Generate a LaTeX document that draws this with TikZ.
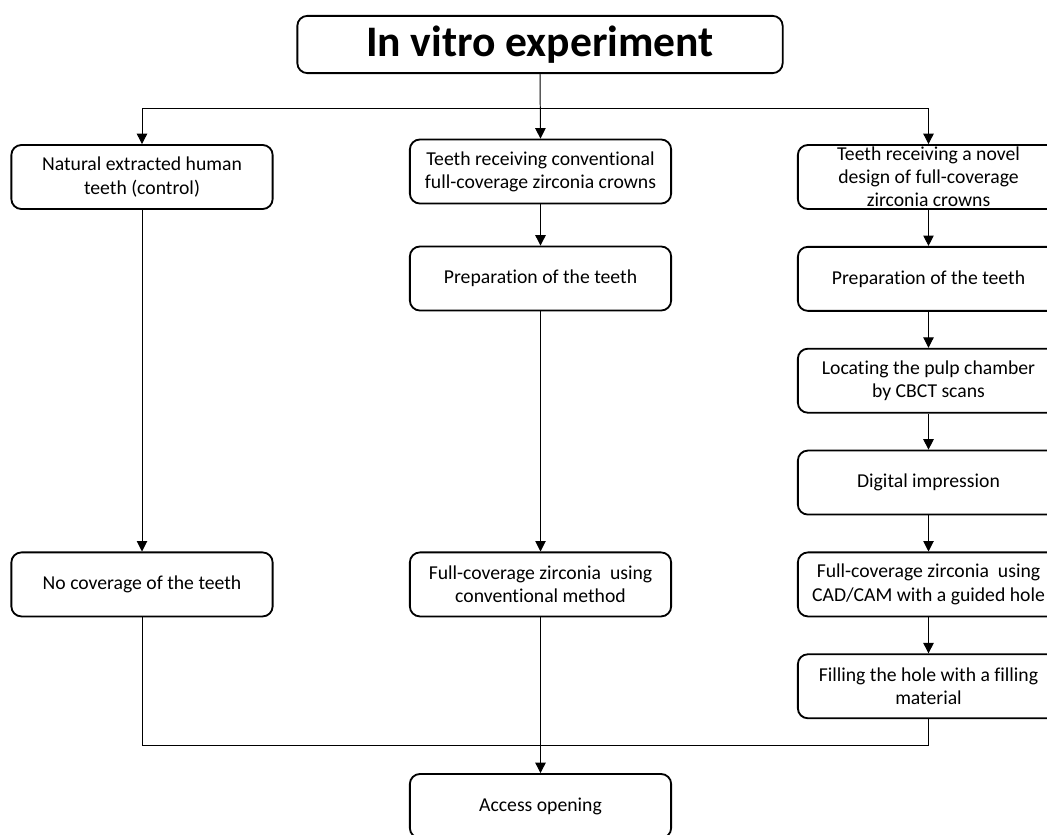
\documentclass[tikz,border=0pt]{standalone}
\usepackage{fontspec}
\setmainfont{Carlito}[Ligatures={NoCommon}]
\usetikzlibrary{arrows.meta,positioning,calc}

\begin{document}
\begin{tikzpicture}[
  x=0.025cm, y=-0.025cm,
  node distance=0.9cm and 3.2cm,
  box/.style={draw,rounded corners=0.25cm,line width=1.3pt,align=center,
    minimum width=6.53cm,minimum height=1.6cm,inner xsep=2pt,inner ysep=0pt,
    font=\fontsize{14}{16.5}\selectfont},
  head/.style={box,minimum width=12.13cm,minimum height=1.43cm,
    font=\fontsize{31}{34}\selectfont\bfseries},
  arr/.style={-{Triangle[length=2.6mm,width=2.6mm]},line width=0.7pt},
  link/.style={line width=0.7pt}
]
  \clip (0,0) rectangle (1047,835);
  \node[head] (title) at (540,44.5) {In vitro experiment};
  \node[box] (nat) at (142,177) {Natural extracted human\\teeth (control)};
  \node[box] (conv) at (540.5,171.5) {Teeth receiving conventional\\full-coverage zirconia crowns};
  \node[box] (novel) at (928.5,177) {Teeth receiving a novel\\design of full-coverage\\zirconia crowns};
  \node[box,below=of novel] (prepb) {Preparation of the teeth};
  \node[box,below=of prepb] (pulp) {Locating the pulp chamber\\by CBCT scans};
  \node[box,below=of pulp] (scan) {Digital impression};
  \node[box,below=of scan] (cadcam) {Full-coverage zirconia~ using\\CAD/CAM with a guided hole};
  \node[box,below=of cadcam] (fill) {Filling the hole with a filling\\material};
  \node[box] (prepa) at (540.5,278.5) {Preparation of the teeth};
  \node[box] (fcconv) at (conv |- cadcam) {Full-coverage zirconia~ using\\conventional method};
  \node[box] (nocov) at (nat |- cadcam) {No coverage of the teeth};
  \node[box] (access) at (540.5,806) {Access opening};
  \coordinate (split) at (540,108);
  \coordinate (merge) at (540,745);
  \draw[arr] (title.south) -- (conv.north);
  \draw[arr] (split) -| (nat.north);
  \draw[arr] (split) -| (novel.north);
  \draw[arr] (nat) -- (nocov);
  \draw[arr] (conv) -- (prepa);
  \draw[arr] (prepa) -- (fcconv);
  \draw[arr] (fcconv) -- (access);
  \draw[arr] (novel) -- (prepb);
  \draw[arr] (prepb) -- (pulp);
  \draw[arr] (pulp) -- (scan);
  \draw[arr] (scan) -- (cadcam);
  \draw[arr] (cadcam) -- (fill);
  \draw[link] (nocov.south) |- (merge);
  \draw[link] (fill.south) |- (merge);
\end{tikzpicture}
\end{document}
